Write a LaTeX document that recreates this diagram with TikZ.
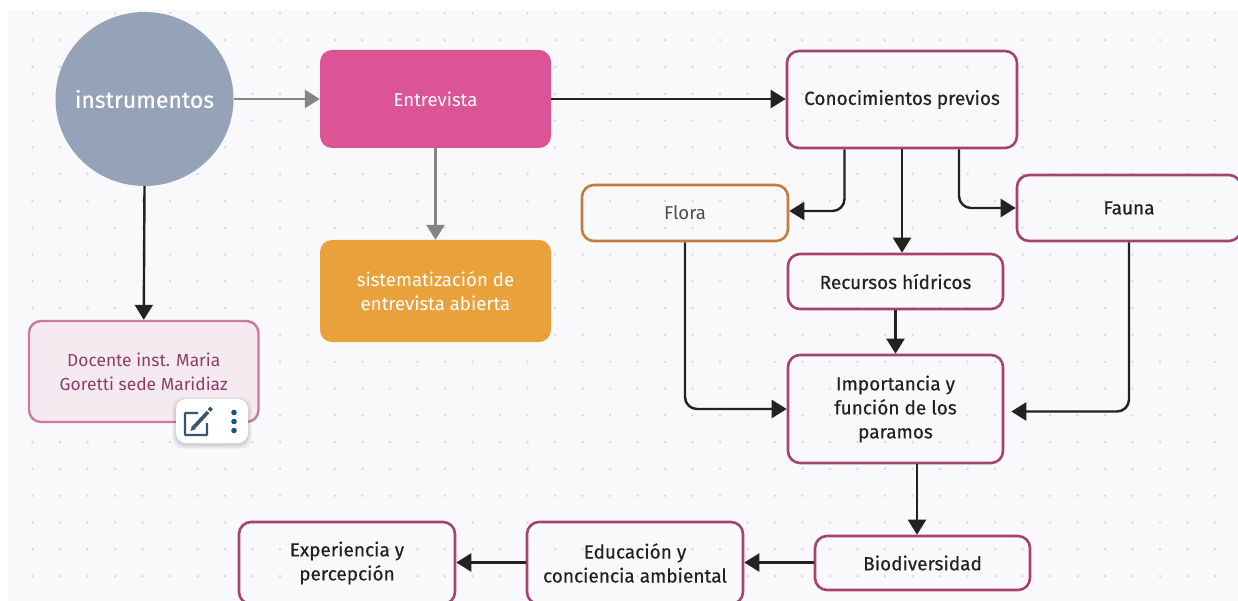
\documentclass[tikz,border=0pt]{standalone}
\usepackage{fontspec}
\setmainfont{Fira Sans}
\newfontfamily\medfont[FakeBold=0.35]{Fira Sans}
\usetikzlibrary{arrows.meta,shapes.geometric}
\definecolor{canvasbg}{HTML}{F9F9FC}
\definecolor{gridc}{HTML}{D9D9E0}
\definecolor{slate}{HTML}{94A3B8}
\definecolor{magent}{HTML}{DB5495}
\definecolor{ambr}{HTML}{E9A23B}
\definecolor{maroon}{HTML}{A5426F}
\definecolor{rustc}{HTML}{C47C3C}
\definecolor{pinkfill}{HTML}{F6EAF1}
\definecolor{pinkline}{HTML}{C97BA3}
\definecolor{pinktext}{HTML}{8C3E66}
\definecolor{inkc}{HTML}{222222}
\definecolor{grayc}{HTML}{858585}
\definecolor{iconc}{HTML}{35566E}
\definecolor{dotc}{HTML}{12577F}
\tikzset{
  x=1pt,y=-1pt,
  box/.style={rounded corners=12pt,align=center,inner sep=0pt,font=\fontsize{18.6}{24}\selectfont,text=inkc},
  linked/.style={box,draw=maroon,line width=2.6pt,font=\medfont\fontsize{19}{24}\selectfont},
  solidbox/.style={box,text=white},
  conn/.style={draw=inkc,line width=2.4pt,rounded corners=12pt,-{Triangle[length=15pt,width=18pt]}},
  soft/.style={draw=grayc,line width=2.8pt,-{Triangle[length=15pt,width=18pt]}},
}
\newcommand{\boxat}[7]{% name, style, x0, y0, x1, y1, text
  \node[#2,minimum width=#5pt-#3pt,minimum height=#6pt-#4pt] (#1) at ({(#3+#5)/2},{(#4+#6)/2}) {#7};}
\begin{document}
\begin{tikzpicture}
\useasboundingbox (0,0) rectangle (1238,601);
\clip (0,0) rectangle (1238,601);
\fill[canvasbg] (8,10) rectangle (1238,601);
\foreach \i in {0,...,43}{\foreach \j in {0,...,21}{
  \fill[gridc] ({32.5+27.5*\i},{13.3+26.8*\j}) circle (1.4pt);}}
\node[ellipse,fill=slate,minimum width=178pt,minimum height=174pt,inner sep=0pt,text=white,font=\medfont\fontsize{23}{24}\selectfont] (inst) at (144.5,99) {\makebox[0pt]{instrumentos}};
\boxat{entre}{solidbox,fill=magent}{320}{50}{551}{148}{Entrevista}
\boxat{siste}{solidbox,fill=ambr}{320}{240}{551}{342}{sistematización de\\entrevista abierta}
\boxat{doc}{box,draw=pinkline,fill=pinkfill,line width=2.4pt,text=pinktext,font=\fontsize{17.4}{24}\selectfont}{29}{321}{258.5}{422}{Docente inst. Maria\\Goretti sede Maridiaz}
\boxat{cono}{linked}{787}{51}{1017}{148}{\raisebox{-1.5pt}{Conocimientos previos}}
\boxat{flora}{box,draw=rustc,line width=2.6pt,text=black!70}{582}{185}{788}{241}{\raisebox{-1.5pt}{Flora}}
\boxat{fauna}{linked}{1017}{175}{1241}{241}{Fauna}
\boxat{recur}{linked}{788}{254}{1003}{309}{Recursos hídricos}
\boxat{impor}{linked}{788}{355}{1003}{463}{Importancia y\\función de los\\paramos}
\boxat{biod}{linked}{815}{536}{1030}{590}{Biodiversidad}
\boxat{educ}{linked}{527}{522}{743}{604}{Educación y\\conciencia ambiental}
\boxat{expe}{linked}{239}{522}{455}{604}{Experiencia y\\percepción}
\coordinate (rowy) at (0,562.5);
\draw[soft] (inst.east) -- (entre.west);
\draw[soft] (entre.south) -- (siste.north);
\draw[conn] (inst.south) -- (doc.north);
\draw[conn] (entre.east) -- (entre.east -| cono.west);
\draw[conn] ([xshift=-57.5pt]cono.south) |- ([yshift=2pt]flora.east);
\draw[conn] ([xshift=57pt]cono.south) |- (fauna.west);
\draw[conn] (cono.south) -- (cono.south |- recur.north);
\draw[conn] (recur.south) -- (impor.north);
\draw[conn] (flora.south) |- (impor.west);
\coordinate (faunaend) at ([xshift=7pt,yshift=-2.5pt]impor.east);
\draw[conn] (fauna.south) |- (faunaend);
\draw[conn] ([xshift=21.5pt]impor.south) -- ([xshift=21.5pt]impor.south |- biod.north);
\draw[conn] (biod.west |- rowy) -- (educ.east |- rowy);
\draw[conn] (educ.west |- rowy) -- (expe.east |- rowy);
% toolbar
\foreach \o/\e in {.04/4,.05/2.5,.06/1}{
  \fill[black,opacity=\o,rounded corners=11pt] (176-\e,399-\e+2) rectangle (248+\e,443+\e+2);}
\node[fill=white,rounded corners=10pt,minimum width=72pt,minimum height=44pt,inner sep=0pt] (bar) at (212,421) {};
\draw[iconc,line width=2.2pt,rounded corners=0.8pt] (198,413) -- (185,413) -- (185,435) -- (207,435) -- (207,423);
\draw[iconc,line width=3.6pt] (194,427) -- (208,412);
\fill[iconc] (190.5,431) -- (192,425.5) -- (196,429) -- cycle;
\draw[iconc,line width=3.6pt] (209,410.5) -- (211.5,408);
\fill[dotc] (234,412.5) circle (2.8pt) (234,421.5) circle (2.8pt) (234,430.5) circle (2.8pt);
\end{tikzpicture}
\end{document}
